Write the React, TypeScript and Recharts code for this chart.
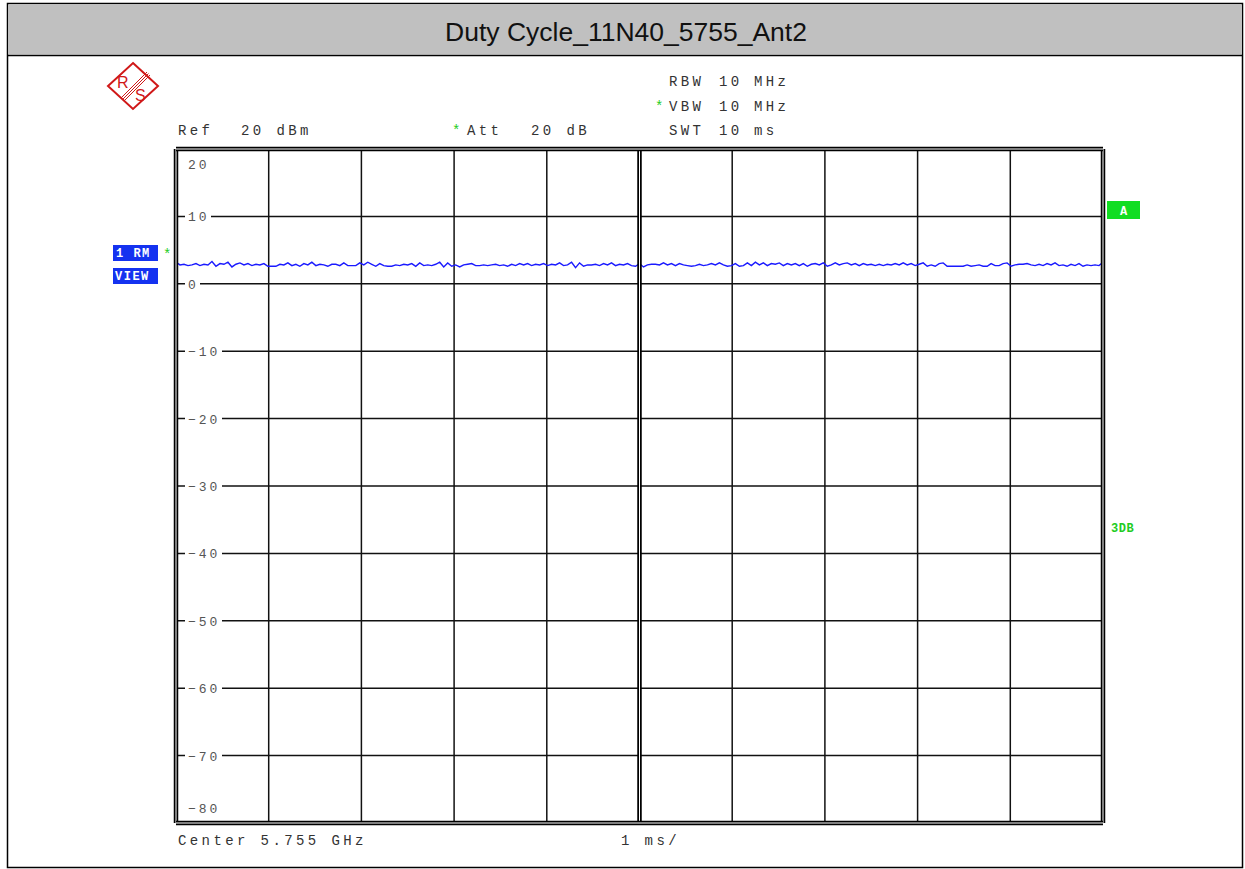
import React from 'react';
import { LineChart, Line, XAxis, YAxis, CartesianGrid, ReferenceLine } from 'recharts';

// sweep values (dBm), 0..10 ms
const traceLevels = [
  3.2, 2.8, 2.9, 2.7, 2.8, 3.0, 2.7, 2.9, 2.8, 3.3, 2.6, 3.0, 2.9, 3.2, 2.5, 2.9, 3.1, 2.8, 3.0, 2.7,
  2.9, 2.8, 3.0, 2.6, 2.6, 2.6, 2.9, 2.8, 3.1, 2.7, 2.9, 2.6, 3.0, 2.8, 3.2, 2.7, 2.9, 2.8, 2.6, 2.9,
  2.9, 2.7, 3.1, 2.7, 2.7, 2.7, 3.1, 2.8, 3.2, 2.9, 2.6, 3.0, 2.7, 2.6, 2.6, 2.8, 2.7, 2.9, 2.8, 3.0,
  2.6, 3.1, 2.7, 2.8, 2.7, 2.9, 3.2, 2.5, 3.1, 2.6, 2.8, 2.5, 2.8, 2.9, 3.0, 2.7, 2.7, 2.8, 2.7, 2.8,
  2.9, 2.7, 2.8, 2.6, 2.9, 2.7, 3.0, 2.8, 3.0, 2.7, 2.9, 2.8, 3.0, 2.7, 2.9, 2.8, 3.1, 2.7, 2.8, 3.2,
  2.4, 3.1, 2.6, 2.8, 2.8, 2.9, 2.7, 3.0, 2.8, 3.1, 2.7, 2.9, 2.8, 3.0, 2.7, 2.6, 3.0, 2.5, 2.8, 2.9,
  2.9, 2.8, 3.1, 2.8, 3.0, 2.7, 3.0, 2.8, 2.7, 2.6, 2.7, 2.9, 2.7, 2.8, 3.0, 2.8, 3.1, 2.8, 2.6, 2.7,
  3.0, 2.6, 2.7, 3.1, 2.7, 3.2, 2.8, 3.1, 2.7, 3.0, 2.9, 3.1, 2.7, 3.0, 2.8, 3.0, 2.7, 3.0, 2.6, 2.9,
  3.0, 2.8, 3.1, 2.6, 2.8, 3.1, 2.8, 3.0, 3.1, 2.8, 3.0, 2.7, 3.0, 2.8, 2.9, 2.7, 2.9, 2.7, 2.9, 2.8,
  3.0, 2.8, 3.1, 2.8, 3.0, 2.7, 2.9, 3.1, 2.6, 2.8, 2.6, 3.0, 3.1, 2.6, 2.6, 2.6, 2.6, 2.6, 2.8, 2.6,
  2.7, 2.8, 2.6, 2.6, 3.0, 2.7, 2.7, 3.0, 3.1, 2.6, 2.8, 2.9, 2.9, 3.0, 2.8, 2.7, 2.9, 2.7, 3.0, 2.8,
  3.1, 2.7, 2.8, 2.6, 2.9, 2.7, 3.0, 2.6, 2.8, 2.7, 2.8, 2.7, 3.2,
];

const sweepMs = 10;
const levelTicks = [20, 10, 0, -10, -20, -30, -40, -50, -60, -70, -80];
const timeTicks = [0, 1, 2, 3, 4, 5, 6, 7, 8, 9, 10];

const chartData = traceLevels.map((v, i) => ({
  t: (i * sweepMs) / (traceLevels.length - 1),
  level: v,
}));

const mono = { fontFamily: '"Liberation Mono", monospace', fontSize: 14, letterSpacing: 3.4, fill: '#333' };
const tickStyle = { fontFamily: '"Liberation Mono", monospace', fontSize: 13, letterSpacing: 3, fill: '#555' };

const EmptyTick = () => null;

const LevelTick = (props: any) => {
  const { y, payload } = props;
  const v = payload.value;
  const label = String(v).replace('-', '\u2212');
  const x0 = 188;
  if (v === 20) {
    return <text x={x0} y={y + 20} style={tickStyle}>{label}</text>;
  }
  if (v === -80) {
    return <text x={x0} y={y - 10} style={tickStyle}>{label}</text>;
  }
  const w = label.length * 11 + 4;
  return (
    <g>
      <rect x={x0 - 3} y={y - 4} width={w} height={8} fill="#fff" />
      <text x={x0} y={y + 5} style={tickStyle}>{label}</text>
    </g>
  );
};

function Decorations() {
  return (
    <svg width={1245} height={869} style={{ position: 'absolute', left: 0, top: 0, pointerEvents: 'none' }}>
      {/* outer frame + title bar */}
      <rect x={7.5} y={3.5} width={1235} height={864} fill="none" stroke="#000" strokeWidth={1.5} />
      <rect x={8.5} y={4.5} width={1233} height={50} fill="#c0c0c0" />
      <line x1={7} y1={55.5} x2={1243} y2={55.5} stroke="#000" strokeWidth={1.5} />
      <text x={626} y={41} textAnchor="middle" style={{ fontFamily: '"Liberation Sans", Arial, sans-serif', fontSize: 26.5, fill: '#111' }}>
        Duty Cycle_11N40_5755_Ant2
      </text>

      {/* R&S logo */}
      <g>
        <polygon points="133,63 158,86 133,109 108,86" fill="#fff" stroke="#d01818" strokeWidth={2} />
        <line x1={147} y1={72} x2={121} y2={98} stroke="#d01818" strokeWidth={1} />
        <line x1={148.5} y1={73.5} x2={122.5} y2={99.5} stroke="#d01818" strokeWidth={1} />
        <line x1={150} y1={75} x2={124} y2={101} stroke="#d01818" strokeWidth={1} />
        <text x={117} y={88} style={{ fontFamily: '"Liberation Sans", sans-serif', fontSize: 16, fill: '#d01818' }}>R</text>
        <text x={135} y={101} style={{ fontFamily: '"Liberation Sans", sans-serif', fontSize: 16, fill: '#d01818' }}>S</text>
      </g>

      {/* settings */}
      <text x={669} y={86} style={mono}>RBW</text>
      <text x={719} y={86} style={mono}>10</text>
      <text x={754} y={86} style={mono}>MHz</text>
      <text x={655} y={111} style={{ ...mono, fill: '#22cc22' }}>*</text>
      <text x={669} y={111} style={mono}>VBW</text>
      <text x={719} y={111} style={mono}>10</text>
      <text x={754} y={111} style={mono}>MHz</text>
      <text x={669} y={135} style={mono}>SWT</text>
      <text x={719} y={135} style={mono}>10</text>
      <text x={754} y={135} style={mono}>ms</text>
      <text x={178} y={135} style={mono}>Ref</text>
      <text x={241} y={135} style={mono}>20 dBm</text>
      <text x={452} y={135} style={{ ...mono, fill: '#22cc22' }}>*</text>
      <text x={467} y={135} style={mono}>Att</text>
      <text x={531} y={135} style={mono}>20 dB</text>
      <text x={178} y={845} style={mono}>Center 5.755 GHz</text>
      <text x={621} y={845} style={mono}>1 ms/</text>

      {/* trace labels */}
      <rect x={113} y={245} width={45} height={16} fill="#1432f0" />
      <text x={116} y={257} style={{ fontFamily: '"Liberation Mono", monospace', fontSize: 12, fontWeight: 'bold', fill: '#fff', letterSpacing: 1.5 }}>1 RM</text>
      <rect x={113} y={268} width={45} height={16} fill="#1432f0" />
      <text x={115} y={280} style={{ fontFamily: '"Liberation Mono", monospace', fontSize: 12, fontWeight: 'bold', fill: '#fff', letterSpacing: 1.5 }}>VIEW</text>
      <text x={163} y={259} style={{ ...mono, fill: '#22cc22' }}>*</text>

      <rect x={1107} y={201} width={33} height={18} fill="#11dd22" />
      <text x={1123.5} y={215} textAnchor="middle" style={{ fontFamily: '"Liberation Mono", monospace', fontSize: 12, fontWeight: 'bold', fill: '#fff' }}>A</text>
      <text x={1111} y={532} style={{ fontFamily: '"Liberation Mono", monospace', fontSize: 12, fontWeight: 'bold', fill: '#22cc22', letterSpacing: 0.5 }}>3DB</text>
    </svg>
  );
}

export default function App() {
  return (
    <div style={{ position: 'absolute', left: 0, top: 0, width: 1245, height: 869, background: '#fff' }}>
      <Decorations />
      <div style={{ position: 'absolute', left: 0, top: 0 }}>
        <LineChart width={1245} height={869} data={chartData} margin={{ top: 149, right: 142, bottom: 45, left: 175 }}>
          <CartesianGrid stroke="#111" strokeWidth={1.5} />
          <XAxis
            dataKey="t"
            type="number"
            domain={[0, sweepMs]}
            ticks={timeTicks}
            interval={0}
            tick={<EmptyTick />}
            axisLine={false}
            tickLine={false}
            height={1}
          />
          <YAxis
            type="number"
            domain={[-80, 20]}
            ticks={levelTicks}
            tick={<LevelTick />}
            axisLine={false}
            tickLine={false}
            width={1}
            interval={0}
          />
          <Line
            type="linear"
            dataKey="level"
            stroke="#1a1aff"
            strokeWidth={1.4}
            dot={false}
            isAnimationActive={false}
          />
          {[0, 5, 10].map((x) => (
            <ReferenceLine key={'xb' + x} x={x} stroke="#000" strokeWidth={4.5} />
          ))}
          {[0, 5, 10].map((x) => (
            <ReferenceLine key={'xw' + x} x={x} stroke="#fff" strokeWidth={1} />
          ))}
          {[20, -80].map((y) => (
            <ReferenceLine key={'yb' + y} y={y} stroke="#000" strokeWidth={4.5} />
          ))}
          {[20, -80].map((y) => (
            <ReferenceLine key={'yw' + y} y={y} stroke="#fff" strokeWidth={1} />
          ))}
        </LineChart>
      </div>
    </div>
  );
}
